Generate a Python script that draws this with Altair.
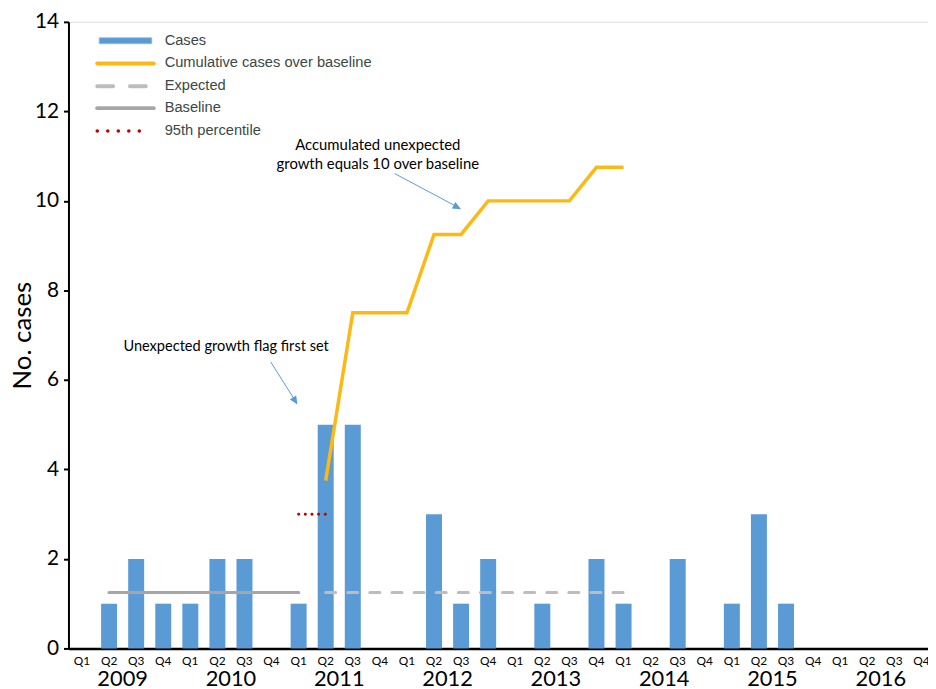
import altair as alt
import pandas as pd

# ---------------- data ----------------
years = [2009, 2010, 2011, 2012, 2013, 2014, 2015, 2016]
quarters = ["Q1", "Q2", "Q3", "Q4"]
keys = [f"{y}-{q}" for y in years for q in quarters]

cases = [0, 1, 2, 1,
         1, 2, 2, 0,
         1, 5, 5, 0,
         0, 3, 1, 2,
         0, 1, 0, 2,
         1, 0, 2, 0,
         1, 3, 1, 0,
         0, 0, 0, 0]

cum_keys = ["2011-Q2", "2011-Q3", "2011-Q4", "2012-Q1", "2012-Q2", "2012-Q3",
            "2012-Q4", "2013-Q1", "2013-Q2", "2013-Q3", "2013-Q4", "2014-Q1"]
cum_vals = [3.75, 7.5, 7.5, 7.5, 9.25, 9.25, 10, 10, 10, 10, 10.75, 10.75]

baseline_keys = ["2009-Q2", "2011-Q1"]
baseline_vals = [1.25, 1.25]

expected_keys = ["2011-Q2", "2014-Q1"]
expected_vals = [1.25, 1.25]

p95_keys = ["2011-Q1", "2011-Q2"]
p95_vals = [3, 3]

year_label_keys = [f"{y}-Q2" for y in years]

legend_labels = ["Cases", "Cumulative cases over baseline", "Expected", "Baseline", "95th percentile"]

annot1 = "Unexpected growth flag first set"
annot2 = ["Accumulated unexpected", "growth equals 10 over baseline"]

# ---------------- styles ----------------
BLUE = "#5b9bd5"
GOLD = "#fdb913"
GRAY = "#a6a6a6"
LGRAY = "#bdbdbd"
RED = "#c00000"
FONT = "Lato"
W, H = 867, 632
STEP = 874 / 32

xscale = alt.Scale(domain=keys, range=[0, 874], paddingInner=0.41, paddingOuter=0.205)
yscale = alt.Scale(domain=[0, 14], nice=False)

xenc = alt.X("key:N", scale=xscale, sort=keys,
             axis=alt.Axis(title=None, labelExpr="split(datum.value, '-')[1]",
                           labelAngle=0, labelFont=FONT, labelFontSize=12, labelColor="#000",
                           labelPadding=7, ticks=False, domainColor="#000", domainWidth=2.5,
                           grid=False, labelOverlap=False))
yenc = alt.Y("v:Q", scale=yscale,
             axis=alt.Axis(title="No. cases", values=[0, 2, 4, 6, 8, 10, 12, 14],
                           labelFont=FONT, labelFontSize=21, labelColor="#000",
                           titleFont=FONT, titleFontSize=26, titleFontWeight="normal",
                           titleColor="#000", titleX=-46, titleY=H / 2, titleAngle=-90,
                           titleAlign="center", titleBaseline="middle",
                           tickSize=5, tickWidth=2, tickColor="#000", domainColor="#000",
                           domainWidth=2, grid=False, labelPadding=5))

df_cases = pd.DataFrame({"key": keys, "v": cases})
bars = alt.Chart(df_cases).mark_bar(color=BLUE).encode(x=xenc, y=yenc)

def line_df(k, v):
    return pd.DataFrame({"key": k, "v": v})

x_plain = alt.X("key:N", scale=xscale, sort=keys)
y_plain = alt.Y("v:Q", scale=yscale)

baseline = alt.Chart(line_df(baseline_keys, baseline_vals)).mark_line(
    color=GRAY, strokeWidth=3.2, strokeCap="round").encode(x=x_plain, y=y_plain)
expected = alt.Chart(line_df(expected_keys, expected_vals)).mark_line(
    color=LGRAY, strokeWidth=3.2, strokeCap="round", strokeDash=[10, 12.3]).encode(x=x_plain, y=y_plain)
p95 = alt.Chart(line_df(p95_keys, p95_vals)).mark_line(
    color=RED, strokeWidth=3, strokeCap="round", strokeDash=[0.1, 6.6]).encode(x=x_plain, y=y_plain)
cum = alt.Chart(line_df(cum_keys, cum_vals)).mark_line(
    color=GOLD, strokeWidth=3.5).encode(x=x_plain, y=y_plain)

# year labels below the quarter labels
df_years = pd.DataFrame({"key": year_label_keys, "label": [str(y) for y in years]})
year_text = alt.Chart(df_years).mark_text(
    font=FONT, fontSize=22, color="#000", dx=STEP / 2, baseline="alphabetic", align="center"
).encode(x=x_plain, y=alt.value(H + 38), text="label:N")

# ---------------- legend (manual) ----------------
LEG_Y = [19, 42, 65, 87, 110]
leg_df = pd.DataFrame({"label": legend_labels, "y": LEG_Y})
leg_text = alt.Chart(leg_df).mark_text(
    font="Liberation Sans", fontSize=14.8, color="#3a4848", align="left", baseline="middle"
).encode(x=alt.value(97), y=alt.Y("y:Q", scale=None), text="label:N")

one = pd.DataFrame({"a": [0]})
leg_cases = alt.Chart(one).mark_rect(color=BLUE, stroke="#8fbbe6", strokeWidth=0.8).encode(
    x=alt.value(31), x2=alt.value(84), y=alt.value(LEG_Y[0] - 3), y2=alt.value(LEG_Y[0] + 3))
leg_cum = alt.Chart(one).mark_rule(color=GOLD, strokeWidth=4, strokeCap="round").encode(
    x=alt.value(29), x2=alt.value(86), y=alt.value(LEG_Y[1]))
leg_exp = alt.Chart(one).mark_rule(color=LGRAY, strokeWidth=4, strokeCap="round", strokeDash=[16, 17]).encode(
    x=alt.value(29), x2=alt.value(80), y=alt.value(LEG_Y[2]))
leg_base = alt.Chart(one).mark_rule(color=GRAY, strokeWidth=4, strokeCap="round").encode(
    x=alt.value(29), x2=alt.value(86), y=alt.value(LEG_Y[3]))
leg_p95 = alt.Chart(one).mark_rule(color=RED, strokeWidth=3.5, strokeCap="round", strokeDash=[0.1, 10.5]).encode(
    x=alt.value(29), x2=alt.value(82), y=alt.value(LEG_Y[4]))

# ---------------- annotations ----------------
ann1 = alt.Chart(one).mark_text(font=FONT, fontSize=14.7, color="#000", align="center", baseline="middle",
                                text=annot1).encode(x=alt.value(159), y=alt.value(328))
ann2 = alt.Chart(one).mark_text(font=FONT, fontSize=15, color="#000", align="center", baseline="middle",
                                lineHeight=19, text=annot2).encode(x=alt.value(312), y=alt.value(124))

ARROW = "M0,0L0.75,1.7L-0.75,1.7Z"
arr1_line = alt.Chart(one).mark_rule(color=BLUE, strokeWidth=1).encode(
    x=alt.value(204), y=alt.value(343), x2=alt.value(228), y2=alt.value(381))
arr1_head = alt.Chart(one).mark_point(shape=ARROW, filled=True, color=BLUE, opacity=1, size=100,
                                      angle=147.9).encode(x=alt.value(231), y=alt.value(386))
arr2_line = alt.Chart(one).mark_rule(color=BLUE, strokeWidth=1).encode(
    x=alt.value(329), y=alt.value(153), x2=alt.value(391), y2=alt.value(186))
arr2_head = alt.Chart(one).mark_point(shape=ARROW, filled=True, color=BLUE, opacity=1, size=100,
                                      angle=118.3).encode(x=alt.value(396), y=alt.value(189))

chart = alt.layer(
    bars, baseline, expected, p95, cum, year_text,
    leg_cases, leg_cum, leg_exp, leg_base, leg_p95, leg_text,
    ann1, ann2, arr1_line, arr1_head, arr2_line, arr2_head
).properties(
    width=W, height=H, autosize="none",
    padding={"left": 61, "top": 11, "right": 0, "bottom": 46}
).configure_view(stroke=None).configure(background="white")

chart.save("out.html", embed_options={"renderer": "svg", "actions": False})
